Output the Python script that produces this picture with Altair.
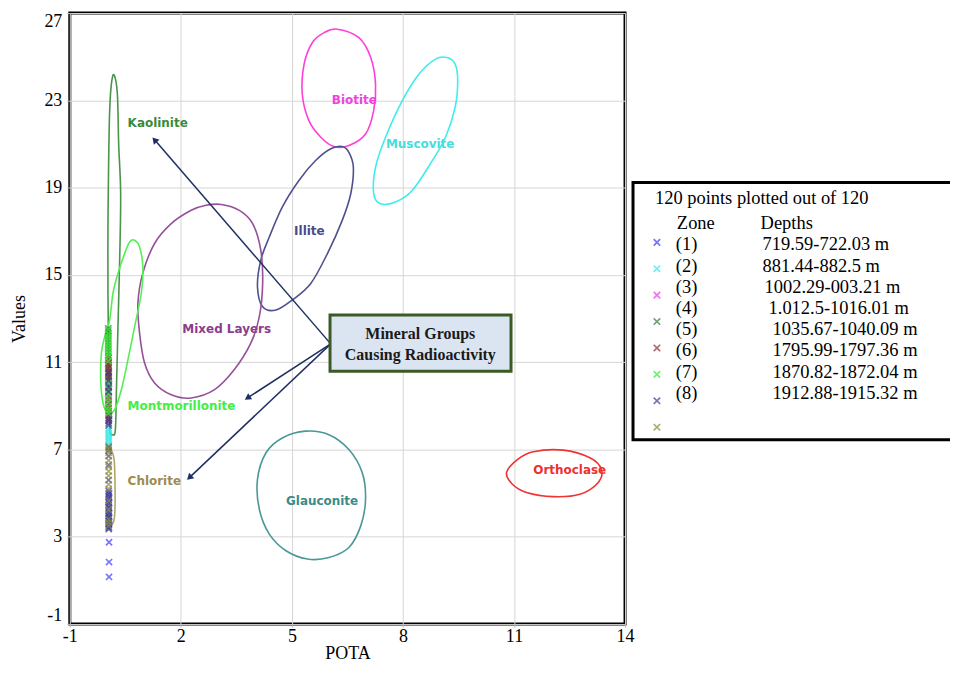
import math
import altair as alt
import pandas as pd

# ---------------- axes ----------------
x_ticks = [-1, 2, 5, 8, 11, 14]
y_ticks = [-1, 3, 7, 11, 15, 19, 23, 27]
W, H = 557, 613

# ---------------- zones (data points) ----------------
zone_names = ["(1)", "(2)", "(3)", "(4)", "(5)", "(6)", "(7)", "(8)"]
zone_depths = ["719.59-722.03 m", "881.44-882.5 m", "1002.29-003.21 m", "1.012.5-1016.01 m",
               "1035.67-1040.09 m", "1795.99-1797.36 m", "1870.82-1872.04 m", "1912.88-1915.32 m"]
zone_colors = ["#3a3aff", "#33eaea", "#ee33ee", "#3a7a3a", "#8c2e2e", "#33ee33", "#3c3c8e", "#8a8a3a"]
zone_pota = [0.06, 0.05, 0.05, 0.04, 0.05, 0.04, 0.05, 0.05]
zone1 = [1.16, 1.84, 2.75, 3.4, 3.55, 3.7, 3.9, 4.1, 4.3, 4.55, 4.8, 5.0, 8.4, 8.55, 10.0]
zone2 = [7.25, 7.35, 7.45, 7.55, 7.65, 7.75, 7.85, 7.95]
zone3 = [9.25, 9.45, 9.6, 10.1]
zone4 = [9.0, 9.3, 9.7, 10.2, 10.5, 10.7, 10.9, 11.1, 11.3, 11.45, 11.6, 11.75, 11.9,
         12.05, 12.2, 12.35, 12.45, 12.55]
zone5 = [8.3, 8.45, 8.6, 8.75, 8.9, 9.1, 9.4, 9.9, 10.3, 10.45, 10.6, 10.75, 10.85, 11.0, 11.2]
zone6 = [8.65, 8.8, 8.95, 9.15, 9.35, 9.55, 9.8, 10.05, 11.05, 11.25, 11.4, 11.55, 11.7,
         11.85, 12.0, 12.15, 12.3, 12.5]
zone7 = [3.35, 3.45, 3.6, 3.75, 3.85, 3.95, 4.05, 4.2, 4.35, 4.45, 4.6, 4.7, 4.85, 4.95, 5.1,
         5.6, 6.3, 6.7, 6.95, 7.1, 8.1, 8.2, 8.35, 9.65, 9.85, 10.15, 10.35, 10.55]
zone8 = [3.5, 3.8, 4.25, 4.65, 5.2, 5.4, 5.8, 6.0, 6.2, 6.5, 6.85, 7.0, 7.15, 3.65]
zone_values = [zone1, zone2, zone3, zone4, zone5, zone6, zone7, zone8]

# ---------------- mineral outlines ----------------
biotite_x = [6.23, 6.81, 7.13, 7.26, 7.21, 6.99, 6.54, 6.14, 5.78, 5.46, 5.28, 5.33, 5.55, 5.87]
biotite_y = [26.26, 25.87, 24.96, 23.74, 22.53, 21.46, 20.93, 20.88, 21.31, 22.07, 23.29, 24.66, 25.64, 26.10]
muscovite_x = [9.19, 9.41, 9.48, 9.41, 9.15, 8.74, 8.25, 7.80, 7.39, 7.21, 7.26, 7.53, 7.98, 8.43, 8.88]
muscovite_y = [24.96, 24.66, 23.90, 22.68, 21.31, 20.09, 18.87, 18.34, 18.26, 18.72, 19.94, 21.31, 22.98, 24.20, 24.89]
illite_x = [6.36, 6.54, 6.66, 6.59, 6.36, 5.96, 5.51, 5.01, 4.57, 4.21, 4.07, 4.16, 4.39, 4.74, 5.19, 5.64, 6.05]
illite_y = [20.88, 20.62, 19.94, 18.72, 17.50, 15.98, 14.61, 13.85, 13.39, 13.54, 14.46, 15.68, 16.74, 18.11, 19.33, 20.24, 20.78]
mixed_x = [3.09, 3.58, 3.94, 4.16, 4.21, 4.12, 3.89, 3.44, 2.91, 2.28, 1.74, 1.29, 1.02, 0.885, 0.84, 0.97, 1.29, 1.74, 2.28, 2.68]
mixed_y = [18.23, 17.96, 17.35, 16.13, 14.61, 13.09, 11.87, 10.65, 9.74, 9.36, 9.51, 10.05, 10.96, 12.33, 13.70, 15.07, 16.44, 17.35, 17.96, 18.19]
glauconite_x = [5.37, 6.00, 6.54, 6.90, 6.99, 6.86, 6.54, 6.00, 5.42, 4.84, 4.39, 4.12, 4.07, 4.30, 4.74]
glauconite_y = [7.84, 7.68, 7.00, 5.94, 4.72, 3.50, 2.51, 2.05, 1.98, 2.36, 3.12, 4.26, 5.63, 6.85, 7.53]
orthoclase_x = [10.80, 11.10, 11.52, 12.33, 13.05, 13.36, 13.27, 12.78, 12.06, 11.34, 10.95]
orthoclase_y = [5.95, 6.55, 6.90, 6.97, 6.62, 6.09, 5.48, 4.95, 4.84, 5.03, 5.42]
kaolinite_x = [0.193, 0.285, 0.320, 0.374, 0.347, 0.301, 0.258, 0.231, 0.166, 0.077, 0.050, 0.031, 0.031, 0.050, 0.077, 0.123]
kaolinite_y = [24.17, 23.29, 21.00, 18.72, 15.68, 12.63, 9.59, 7.91, 7.68, 8.06, 11.11, 14.16, 17.20, 20.24, 22.53, 23.74]
montmor_x = [0.751, 0.885, 0.974, 0.931, 0.751, 0.570, 0.392, 0.212, 0.031, -0.103, -0.165, -0.146, -0.057, 0.077, 0.166, 0.301, 0.481, 0.616]
montmor_y = [16.59, 16.28, 15.37, 14.16, 12.63, 11.11, 9.74, 8.83, 8.68, 9.13, 10.20, 11.42, 12.17, 12.94, 14.16, 15.07, 15.98, 16.51]
chlorite_x = [0.023, 0.158, 0.212, 0.225, 0.225, 0.185, 0.077]
chlorite_y = [7.18, 6.91, 6.54, 5.17, 4.03, 3.62, 3.44]

closed_shapes = [
    ("Biotite", biotite_x, biotite_y, "#ff3fd8"),
    ("Muscovite", muscovite_x, muscovite_y, "#40ecec"),
    ("Illite", illite_x, illite_y, "#50508e"),
    ("Mixed Layers", mixed_x, mixed_y, "#95509a"),
    ("Glauconite", glauconite_x, glauconite_y, "#4a9898"),
    ("Orthoclase", orthoclase_x, orthoclase_y, "#ee3333"),
    ("Kaolinite", kaolinite_x, kaolinite_y, "#4c944c"),
    ("Montmorillonite", montmor_x, montmor_y, "#55ee55"),
]

# ---------------- mineral labels ----------------
label_text = ["Kaolinite", "Biotite", "Muscovite", "Illite", "Mixed Layers",
              "Montmorillonite", "Chlorite", "Glauconite", "Orthoclase"]
label_x = [0.562, 6.08, 7.54, 5.06, 2.04, 0.562, 0.562, 4.84, 11.52]
label_y = [21.98, 23.03, 21.02, 17.0, 12.53, 9.01, 5.54, 4.63, 6.04]
label_color = ["#3a8a3a", "#ee44dd", "#44dede", "#4a4a8c", "#8c3c8c",
               "#44ee44", "#9c8c50", "#3c8a8a", "#ee3030"]

# ---------------- annotation ----------------
box_x = [6.03, 10.92]
box_y = [10.58, 13.16]
box_lines = ["Mineral Groups", "Causing Radioactivity"]
box_line_x = [8.47, 8.47]
box_line_y = [12.30, 11.34]
arrow_start = (6.05, 11.84)
arrow_tip_x = [1.29, 3.80, 2.23]
arrow_tip_y = [21.19, 9.36, 5.71]

# ---------------- build data ----------------
pts = []
for name, col, xv, vals in zip(zone_names, zone_colors, zone_pota, zone_values):
    for v in vals:
        pts.append({"zone": name, "c": col, "x": xv, "y": v})
pts_df = pd.DataFrame(pts)

shape_rows = []
for name, xs_, ys_, col in closed_shapes:
    for i, (a, b) in enumerate(zip(xs_, ys_)):
        shape_rows.append({"m": name, "i": i, "x": a, "y": b, "c": col})
shape_df = pd.DataFrame(shape_rows)
chl_df = pd.DataFrame({"i": list(range(len(chlorite_x))), "x": chlorite_x, "y": chlorite_y})

lab_df = pd.DataFrame({"t": label_text, "x": label_x, "y": label_y, "c": label_color})

sx, sy = W / 15.0, H / 28.0
arr = []
for tx, ty in zip(arrow_tip_x, arrow_tip_y):
    ang = math.degrees(math.atan2((tx - arrow_start[0]) * sx, (ty - arrow_start[1]) * sy)) % 360
    arr.append({"x": arrow_start[0], "y": arrow_start[1], "x2": tx, "y2": ty, "a": ang})
arr_df = pd.DataFrame(arr)
box_df = pd.DataFrame({"x": [box_x[0]], "x2": [box_x[1]], "y": [box_y[0]], "y2": [box_y[1]]})
boxtxt_df = pd.DataFrame({"t": box_lines, "x": box_line_x, "y": box_line_y})

xs = alt.Scale(domain=[-1, 14], nice=False, zero=False)
ys = alt.Scale(domain=[-1, 27], nice=False, zero=False)
X = alt.X("x:Q", scale=xs, axis=alt.Axis(values=x_ticks, title="POTA", labelFlush=False,
                                         labelExpr="'' + datum.value",
                                         tickSize=3, labelPadding=0, titlePadding=0))
Y = alt.Y("y:Q", scale=ys, axis=alt.Axis(values=y_ticks, title="Values", labelFlush=True,
                                         labelExpr="'' + datum.value",
                                         tickSize=3, labelPadding=5, titlePadding=15))

base_grid = alt.Chart(pts_df).mark_point(opacity=0).encode(x=X, y=Y)

shapes = alt.Chart(shape_df).mark_line(interpolate="cardinal-closed", strokeWidth=1.6).encode(
    x="x:Q", y="y:Q", color=alt.Color("c:N", scale=None), detail="m:N", order="i:Q")
chlorite = alt.Chart(chl_df).mark_line(interpolate="basis", strokeWidth=1.6, color="#b4a468").encode(
    x="x:Q", y="y:Q", order="i:Q")

XSHAPE = "M-1,-1L1,1M1,-1L-1,1"
points = alt.Chart(pts_df).mark_point(shape=XSHAPE, filled=False, size=38,
                                      strokeWidth=1.6).encode(
    x="x:Q", y="y:Q", color=alt.Color("c:N", scale=None))

labels = alt.Chart(lab_df).mark_text(font="DejaVu Sans", fontWeight="bold", fontSize=12,
                                     align="left", baseline="middle").encode(
    x="x:Q", y="y:Q", text="t:N", color=alt.Color("c:N", scale=None))

arrows = alt.Chart(arr_df).mark_rule(color="#1f2f62", strokeWidth=1.5).encode(
    x="x:Q", y="y:Q", x2="x2:Q", y2="y2:Q")
heads = alt.Chart(arr_df).mark_point(shape="triangle-up", filled=True, size=55, color="#1f2f62",
                                     opacity=1).encode(
    x="x2:Q", y="y2:Q", angle=alt.Angle("a:Q", scale=None))

box = alt.Chart(box_df).mark_rect(fill="#dbe5f1", stroke="#3b5a26", strokeWidth=3).encode(
    x="x:Q", x2="x2:Q", y="y:Q", y2="y2:Q")
boxtxt = alt.Chart(boxtxt_df).mark_text(font="Liberation Serif", fontWeight="bold", fontSize=16,
                                        align="center", baseline="middle", color="#1a1a1a").encode(
    x="x:Q", y="y:Q", text="t:N")

# ---------------- legend (drawn in the right margin) ----------------
dummy = pd.DataFrame({"a": [0]})
LF = 18.5
def ltext(txt, px, py):
    return alt.Chart(dummy).mark_text(text=txt, font="Liberation Serif", fontSize=LF, align="left",
                                      baseline="middle", color="black").encode(
        x=alt.value(px), y=alt.value(py))

leg_layers = [
    alt.Chart(dummy).mark_rect(fill="white", stroke="black", strokeWidth=3).encode(
        x=alt.value(565), x2=alt.value(940), y=alt.value(170), y2=alt.value(428)),
    ltext("120 points plotted out of 120", 587, 186),
    ltext("Zone", 609, 211),
    ltext("Depths", 693, 211),
]
depth_x_shift = [0, 0, 2, 6, 10, 10, 10, 10]
for k in range(len(zone_names)):
    ty = 232 + k * 21.3
    my = 230 + k * 26.5
    leg_layers.append(ltext(zone_names[k], 608, ty))
    leg_layers.append(ltext(zone_depths[k], 695 + depth_x_shift[k], ty))
    leg_layers.append(alt.Chart(dummy).mark_point(shape=XSHAPE, filled=False, size=42,
                                                  strokeWidth=1.7, color=zone_colors[k]).encode(
        x=alt.value(589), y=alt.value(my)))

chart = alt.layer(base_grid, shapes, chlorite, points, labels, arrows, heads, box, boxtxt,
                  *leg_layers).properties(
    width=W, height=H,
    autosize=alt.AutoSizeParams(type="none"),
    padding={"left": 62, "top": 4, "right": 326, "bottom": 38},
).configure_view(stroke="black", strokeWidth=3).configure_axis(
    labelFont="Liberation Serif", labelFontSize=18, labelColor="black",
    titleFont="Liberation Serif", titleFontSize=18, titleFontWeight="normal", titleColor="black",
    gridColor="#d6d6d6", domain=False, tickColor="#bbbbbb",
)

chart.save("out.html", embed_options={"renderer": "svg", "actions": False})
